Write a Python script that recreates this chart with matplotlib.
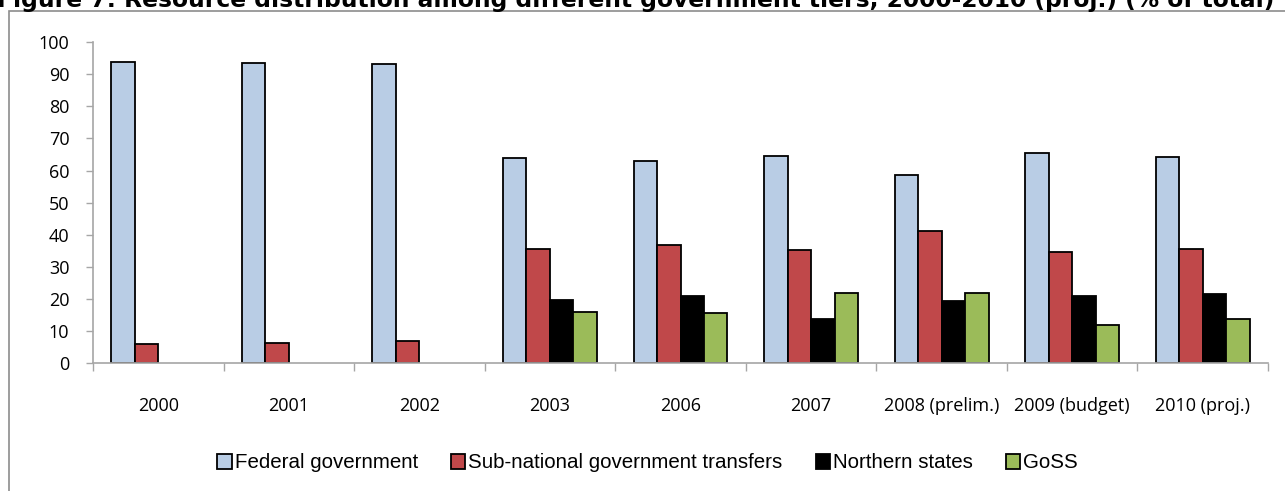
import numpy as np
import matplotlib
matplotlib.use("Agg")
import matplotlib.pyplot as plt
from matplotlib.patches import Rectangle

years = ["2000", "2001", "2002", "2003", "2006", "2007",
         "2008 (prelim.)", "2009 (budget)", "2010 (proj.)"]
federal = [93.9, 93.5, 93.0, 63.9, 63.1, 64.6, 58.5, 65.3, 64.3]
subnational = [5.9, 6.3, 6.9, 35.7, 36.8, 35.3, 41.3, 34.5, 35.6]
northern = [np.nan, np.nan, np.nan, 19.7, 20.9, 13.8, 19.5, 20.9, 21.7]
goss = [np.nan, np.nan, np.nan, 15.9, 15.7, 21.8, 21.8, 11.9, 13.8]

series = [
    ("Federal government", federal, "#b9cde5"),
    ("Sub-national government transfers", subnational, "#c0484a"),
    ("Northern states", northern, "#000000"),
    ("GoSS", goss, "#9bbb59"),
]

axis_gray = "#a6a6a6"
tick_font = ["Open Sans", "DejaVu Sans"]

fig = plt.figure(figsize=(12.85, 4.91), dpi=100)
ax = fig.add_axes([93 / 1285, 1 - 363.3 / 491, (1268 - 93) / 1285, (363.3 - 42) / 491])

x = np.arange(len(years)) + 0.5
w = 0.18
for i, (name, vals, col) in enumerate(series):
    ax.bar(x + (i - 1.5) * w, vals, w, color=col, edgecolor="black",
           linewidth=1.3, label=name)

ax.set_xlim(0, len(years))
ax.set_ylim(0, 100)
ax.set_yticks(range(0, 101, 10))
ax.set_xticks(x)
ax.set_xticklabels(years)
ax.set_xticks(np.arange(len(years) + 1), minor=True)
ax.tick_params(axis="x", which="major", length=0, pad=24, labelsize=13)
ax.tick_params(axis="x", which="minor", length=6, color=axis_gray, width=1)
ax.tick_params(axis="y", length=5, color=axis_gray, width=1, pad=12, labelsize=13)
for lab in ax.get_xticklabels() + ax.get_yticklabels():
    lab.set_family(tick_font)
for s in ["top", "right"]:
    ax.spines[s].set_visible(False)
for s in ["left", "bottom"]:
    ax.spines[s].set_color(axis_gray)
    ax.spines[s].set_linewidth(1.2)

leg = fig.legend(loc="center", bbox_to_anchor=(0.504, 1 - 463 / 491), ncol=4,
                 frameon=False, handlelength=0.7, handleheight=0.7,
                 handletextpad=0.15, columnspacing=1.6,
                 prop={"family": ["Liberation Sans", "DejaVu Sans"], "size": 14.8})

# outer chart frame, cut off at right and bottom
fig.patches.append(Rectangle((9 / 1285, -0.1), 1.2, 1.1 - 11 / 491,
                             transform=fig.transFigure, fill=False,
                             edgecolor="#8c8c8c", linewidth=1.2))

fig.text(-0.002, 1 - 7 / 491,
         "Figure 7: Resource distribution among different government tiers, 2000-2010 (proj.) (% of total)",
         fontsize=16.8, fontweight="bold", va="baseline", ha="left")

fig.savefig("out.png", dpi=100)
